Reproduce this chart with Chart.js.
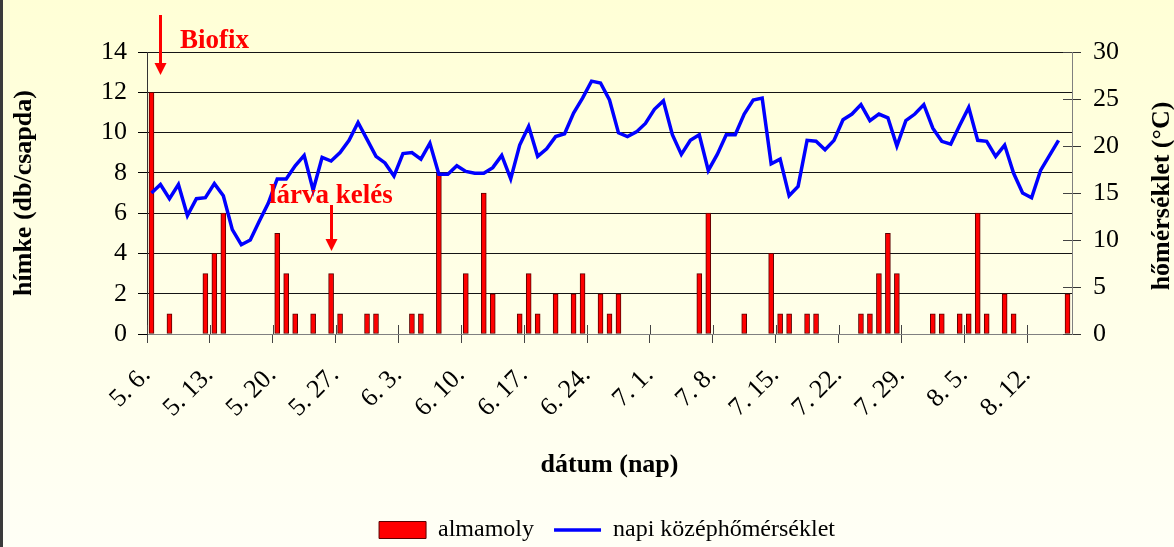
<!DOCTYPE html>
<html><head><meta charset="utf-8">
<script src="https://cdn.jsdelivr.net/npm/chart.js@4.4.1/dist/chart.umd.min.js"></script>
<style>html,body{margin:0;padding:0;background:#fffff0;overflow:hidden}canvas{display:block}</style>
</head><body>
<canvas id="c" width="1174" height="547"></canvas>
<script>
// categories: one per day
const dates = [
 "5. 6.","5. 7.","5. 8.","5. 9.","5. 10.","5. 11.","5. 12.","5. 13.","5. 14.","5. 15.","5. 16.","5. 17.","5. 18.","5. 19.",
 "5. 20.","5. 21.","5. 22.","5. 23.","5. 24.","5. 25.","5. 26.","5. 27.","5. 28.","5. 29.","5. 30.","5. 31.",
 "6. 1.","6. 2.","6. 3.","6. 4.","6. 5.","6. 6.","6. 7.","6. 8.","6. 9.","6. 10.","6. 11.","6. 12.","6. 13.","6. 14.","6. 15.",
 "6. 16.","6. 17.","6. 18.","6. 19.","6. 20.","6. 21.","6. 22.","6. 23.","6. 24.","6. 25.","6. 26.","6. 27.","6. 28.","6. 29.","6. 30.",
 "7. 1.","7. 2.","7. 3.","7. 4.","7. 5.","7. 6.","7. 7.","7. 8.","7. 9.","7. 10.","7. 11.","7. 12.","7. 13.","7. 14.","7. 15.",
 "7. 16.","7. 17.","7. 18.","7. 19.","7. 20.","7. 21.","7. 22.","7. 23.","7. 24.","7. 25.","7. 26.","7. 27.","7. 28.","7. 29.","7. 30.","7. 31.",
 "8. 1.","8. 2.","8. 3.","8. 4.","8. 5.","8. 6.","8. 7.","8. 8.","8. 9.","8. 10.","8. 11.","8. 12.","8. 13.","8. 14.","8. 15.","8. 16."
];
const tickStep = 7; // a labelled tick every 7 days

// almamoly catches (db/csapda)
const almamoly = [
 12,0,1,0,0,0,3,
 4,6,0,0,0,0,0,
 5,3,1,0,1,0,3,
 1,0,0,1,1,0,0,
 0,1,1,0,8,0,0,
 3,0,7,2,0,0,1,
 3,1,0,2,0,2,3,
 0,2,1,2,0,0,0,
 0,0,0,0,0,3,6,
 0,0,0,1,0,0,4,
 1,1,0,1,1,0,0,
 0,0,1,1,3,5,3,
 0,0,0,1,1,0,1,
 1,6,1,0,2,1,0,
 0,0,0,0,2
];

// napi középhőmérséklet (°C)
const napiKozep = [
 15.0,15.9,14.4,15.9,12.6,14.4,14.5,
 16.0,14.7,11.1,9.5,10.0,12.0,13.9,
 16.5,16.5,17.9,19.0,15.3,18.8,18.4,
 19.3,20.6,22.5,20.7,18.9,18.2,16.8,
 19.2,19.3,18.6,20.3,17.0,17.0,17.9,
 17.3,17.1,17.1,17.7,19.0,16.5,20.1,
 22.1,18.9,19.7,21.0,21.3,23.5,25.1,
 26.9,26.7,24.9,21.4,21.0,21.5,22.4,
 23.9,24.8,21.2,19.1,20.6,21.2,17.4,
 19.1,21.2,21.2,23.4,24.9,25.1,18.1,
 18.6,14.7,15.7,20.6,20.5,19.6,20.6,
 22.8,23.4,24.4,22.7,23.4,23.0,20.0,
 22.7,23.4,24.4,21.9,20.5,20.2,22.2,
 24.1,20.6,20.5,18.9,20.1,17.1,15.0,
 14.5,17.4,19.0,20.6,null
];

const leftAxis = {min: 0, max: 14, step: 2};
const rightAxis = {min: 0, max: 30, step: 5};

const FAM = "'Liberation Serif', 'Times New Roman', serif";
const annotations = [
  {text: 'Biofix', at: 1, textX: 180, textY: 48, arrowTop: 15, arrowTip: 75},
  {text: 'lárva kelés', at: 20, textX: 269, textY: 203, arrowTop: 205, arrowTip: 251}
];

const decor = {
  id: 'decor',
  beforeDraw(chart) {
    const {ctx, width, height} = chart;
    ctx.save();
    const g = ctx.createLinearGradient(0, 0, 0, height);
    g.addColorStop(0, '#ffffd6');
    g.addColorStop(1, '#fffff6');
    ctx.fillStyle = g;
    ctx.fillRect(0, 0, width, height);
    ctx.fillStyle = '#3a3a3a';
    ctx.fillRect(0, 0, 3, height);
    ctx.restore();
  },
  afterDraw(chart) {
    const {ctx, chartArea, scales} = chart;
    const xs = scales.x, y2 = scales.y2;
    ctx.save();
    ctx.strokeStyle = '#444';
    ctx.lineWidth = 1;
    const step = xs.getPixelForTick(1) - xs.getPixelForTick(0);
    ctx.beginPath();
    for (let i = 0; i < dates.length; i += tickStep) {
      const px = Math.round(xs.getPixelForTick(i) - step / 2) + 0.5;
      ctx.moveTo(px, chartArea.bottom - 9);
      ctx.lineTo(px, chartArea.bottom);
    }
    y2.ticks.forEach(t => {
      const py = Math.round(y2.getPixelForValue(t.value)) + 0.5;
      ctx.moveTo(chartArea.right - 9, py);
      ctx.lineTo(chartArea.right, py);
    });
    ctx.stroke();

    // right axis title (reads bottom to top)
    ctx.save();
    ctx.font = 'bold 26px ' + FAM;
    ctx.fillStyle = '#000';
    ctx.textAlign = 'center';
    ctx.textBaseline = 'middle';
    ctx.translate(1162, 196);
    ctx.rotate(-Math.PI / 2);
    ctx.fillText('hőmérséklet (°C)', 0, 0);
    ctx.restore();

    // annotations
    annotations.forEach(a => {
      const ax = Math.round(xs.getPixelForValue(a.at)) + 0.5;
      ctx.strokeStyle = '#ff0000';
      ctx.fillStyle = '#ff0000';
      ctx.lineWidth = 3;
      ctx.beginPath();
      ctx.moveTo(ax, a.arrowTop);
      ctx.lineTo(ax, a.arrowTip - 10);
      ctx.stroke();
      ctx.beginPath();
      ctx.moveTo(ax - 6, a.arrowTip - 12);
      ctx.lineTo(ax + 6, a.arrowTip - 12);
      ctx.lineTo(ax, a.arrowTip);
      ctx.closePath();
      ctx.fill();
      ctx.font = 'bold 27px ' + FAM;
      ctx.textAlign = 'left';
      ctx.textBaseline = 'alphabetic';
      ctx.fillText(a.text, a.textX, a.textY);
    });
    ctx.restore();
  }
};

Chart.defaults.font.family = FAM;
Chart.defaults.color = '#000';

new Chart(document.getElementById('c'), {
  type: 'bar',
  data: {
    labels: dates,
    datasets: [
      {
        type: 'bar', label: 'almamoly',
        data: almamoly.map(v => v === 0 ? null : v),
        yAxisID: 'y',
        backgroundColor: '#ff0000', borderColor: '#5a0000', borderWidth: 1,
        borderSkipped: false, barThickness: 5, order: 1, pointStyle: 'rect'
      },
      {
        type: 'line', label: 'napi középhőmérséklet',
        data: napiKozep, yAxisID: 'y2',
        borderColor: '#0000ff', backgroundColor: '#0000ff', borderWidth: 3.5,
        pointRadius: 0, tension: 0, order: 0, pointStyle: 'line', fill: false
      }
    ]
  },
  options: {
    responsive: false,
    animation: false,
    events: [],
    layout: {padding: {left: 40, right: 0, top: 52, bottom: -5}},
    plugins: {
      tooltip: {enabled: false},
      legend: {
        position: 'bottom',
        labels: {
          usePointStyle: true, pointStyleWidth: 47, boxHeight: 17, padding: 20,
          color: '#000', font: {family: FAM, size: 24},
          sort: (a, b) => a.datasetIndex - b.datasetIndex
        }
      }
    },
    scales: {
      x: {
        offset: true,
        grid: {
          offset: true, drawOnChartArea: false, drawTicks: true, tickLength: 9,
          color: c => (c.index % tickStep === 0) ? '#444' : 'rgba(0,0,0,0)'
        },
        border: {display: true, color: '#808080', width: 1},
        ticks: {
          autoSkip: false, maxRotation: 45, minRotation: 45, padding: 28, labelOffset: -5, color: '#000',
          font: {family: FAM, size: 26, lineHeight: 0.01},
          callback: (v, i) => (i % tickStep === 0) ? dates[i] : ''
        },
        title: {
          display: true, text: 'dátum (nap)', color: '#000',
          font: {family: FAM, size: 26, weight: 'bold', lineHeight: 1},
          padding: {top: 0, bottom: 20}
        },
        afterFit(s) { s.height = 164; }
      },
      y: {
        position: 'left', min: leftAxis.min, max: leftAxis.max,
        ticks: {stepSize: leftAxis.step, padding: 11, color: '#000', font: {family: FAM, size: 26}},
        grid: {
          color: c => (c.tick && c.tick.value === 0) ? 'rgba(0,0,0,0)' : '#151515',
          tickColor: '#000', tickLength: 9, drawTicks: true
        },
        border: {display: true, color: '#333'},
        title: {
          display: true, text: 'hímke (db/csapda)', color: '#000',
          font: {family: FAM, size: 26, weight: 'bold', lineHeight: 1},
          padding: {top: -29, bottom: 0}
        },
        afterFit(s) { s.width = 107; }
      },
      y2: {
        position: 'right', min: rightAxis.min, max: rightAxis.max,
        ticks: {stepSize: rightAxis.step, padding: 12, color: '#000', font: {family: FAM, size: 26}},
        grid: {drawOnChartArea: false, tickLength: 9, color: '#333'},
        border: {display: true, color: '#808080'},
        afterFit(s) { s.width = 102; }
      }
    }
  },
  plugins: [decor]
});
</script>
</body></html>
